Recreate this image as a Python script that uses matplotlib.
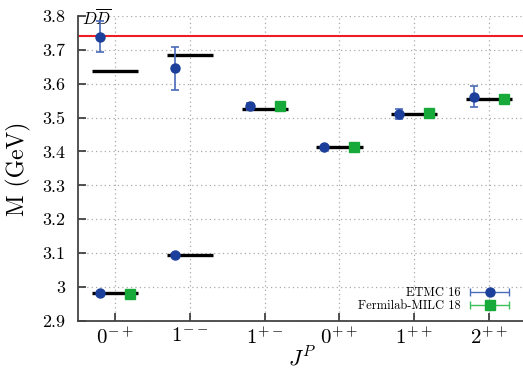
import numpy as np
import matplotlib
matplotlib.use("Agg")
import matplotlib.pyplot as plt
from matplotlib.container import ErrorbarContainer
from matplotlib.legend_handler import HandlerErrorbar

plt.rcParams['font.family'] = ['cmr10', 'DejaVu Serif']
plt.rcParams['mathtext.fontset'] = 'cm'
plt.rcParams['axes.unicode_minus'] = False

# channels J^P
categories = [r'$0^{-+}$', r'$1^{--}$', r'$1^{+-}$', r'$0^{++}$', r'$1^{++}$', r'$2^{++}$']

# experimental levels (black bars): category index, mass
exp_idx = [0, 0, 1, 1, 2, 3, 4, 5]
exp_mass = [2.983, 3.638, 3.096, 3.686, 3.524, 3.412, 3.510, 3.556]

# ETMC 16
etmc_idx = [0, 0, 1, 1, 2, 3, 4, 5]
etmc_mass = [2.983, 3.739, 3.096, 3.645, 3.533, 3.412, 3.511, 3.562]
etmc_err = [0.003, 0.047, 0.003, 0.064, 0.011, 0.005, 0.014, 0.030]

# Fermilab-MILC 18
fm_idx = [0, 2, 3, 4, 5]
fm_mass = [2.980, 3.535, 3.412, 3.513, 3.556]
fm_err = [0.002, 0.004, 0.004, 0.004, 0.004]

dd_threshold = 3.7397
yticks = [2.9, 3.0, 3.1, 3.2, 3.3, 3.4, 3.5, 3.6, 3.7, 3.8]
ytick_labels = ['2.9', '3', '3.1', '3.2', '3.3', '3.4', '3.5', '3.6', '3.7', '3.8']

blue = '#1b3f9b'
blue_err = '#4a6bb8'
green = '#17a93a'
green_err = '#3cc05a'

fig = plt.figure(figsize=(5.23, 3.69), dpi=100)
ax = fig.add_axes([0.149, 0.130, 0.857, 0.827])

ax.axhline(dd_threshold, color='#ee1c24', lw=1.5, zorder=2)
ax.text(-0.44, 3.793, r'$D\overline{D}$', fontsize=12, ha='left', va='center', clip_on=False)

xi = np.array(exp_idx, dtype=float)
ax.hlines(exp_mass, xi - 0.31, xi + 0.31, color='black', lw=2.4, zorder=3)

ax.errorbar(np.array(etmc_idx) - 0.2, etmc_mass, yerr=etmc_err, fmt='o', color=blue,
            ecolor=blue_err, ms=6.5, capsize=3, elinewidth=1.2, capthick=1.2, zorder=4)
ax.errorbar(np.array(fm_idx) + 0.2, fm_mass, yerr=fm_err, fmt='s', color=green,
            ecolor=green_err, ms=6.5, capsize=3, elinewidth=1.2, capthick=1.2, zorder=4)

# legend proxies with horizontal bars
ax.errorbar([np.nan], [np.nan], xerr=[1], fmt='o', color=blue, ecolor=blue_err, ms=6.5,
            capsize=3, elinewidth=1.0, label='ETMC 16')
ax.errorbar([np.nan], [np.nan], xerr=[1], fmt='s', color=green, ecolor=green_err, ms=6.5,
            capsize=3, elinewidth=1.0, label='Fermilab-MILC 18')
ax.legend(loc='lower right', bbox_to_anchor=(0.98, 0.0), frameon=False, markerfirst=False,
          fontsize=9, handlelength=3.0, labelspacing=0.1, borderaxespad=0.3, handletextpad=0.8,
          handler_map={ErrorbarContainer: HandlerErrorbar(xerr_size=1.55)})

ax.set_xlim(-0.5, 5.5)
ax.set_ylim(2.9, 3.8)
ax.set_xticks(range(len(categories)))
ax.set_xticklabels(categories, fontsize=15)
ax.set_yticks(yticks)
ax.set_yticklabels(ytick_labels, fontsize=13)
ax.tick_params(direction='in', length=6, width=1.2, color='#333333')
ax.tick_params(axis='y', pad=9)
ax.tick_params(axis='x', pad=4)

ax.grid(True, color='#aaaaaa', linestyle=(0, (1, 2.5)), lw=0.9)
ax.set_axisbelow(True)
for s in ['top', 'right']:
    ax.spines[s].set_visible(False)
for s in ['left', 'bottom']:
    ax.spines[s].set_color('#444444')
    ax.spines[s].set_linewidth(1.3)

ax.set_ylabel('M (GeV)', fontsize=17, labelpad=8)
ax.set_xlabel(r'$J^P$', fontsize=16, labelpad=-1)

fig.savefig('out.png', dpi=100)
